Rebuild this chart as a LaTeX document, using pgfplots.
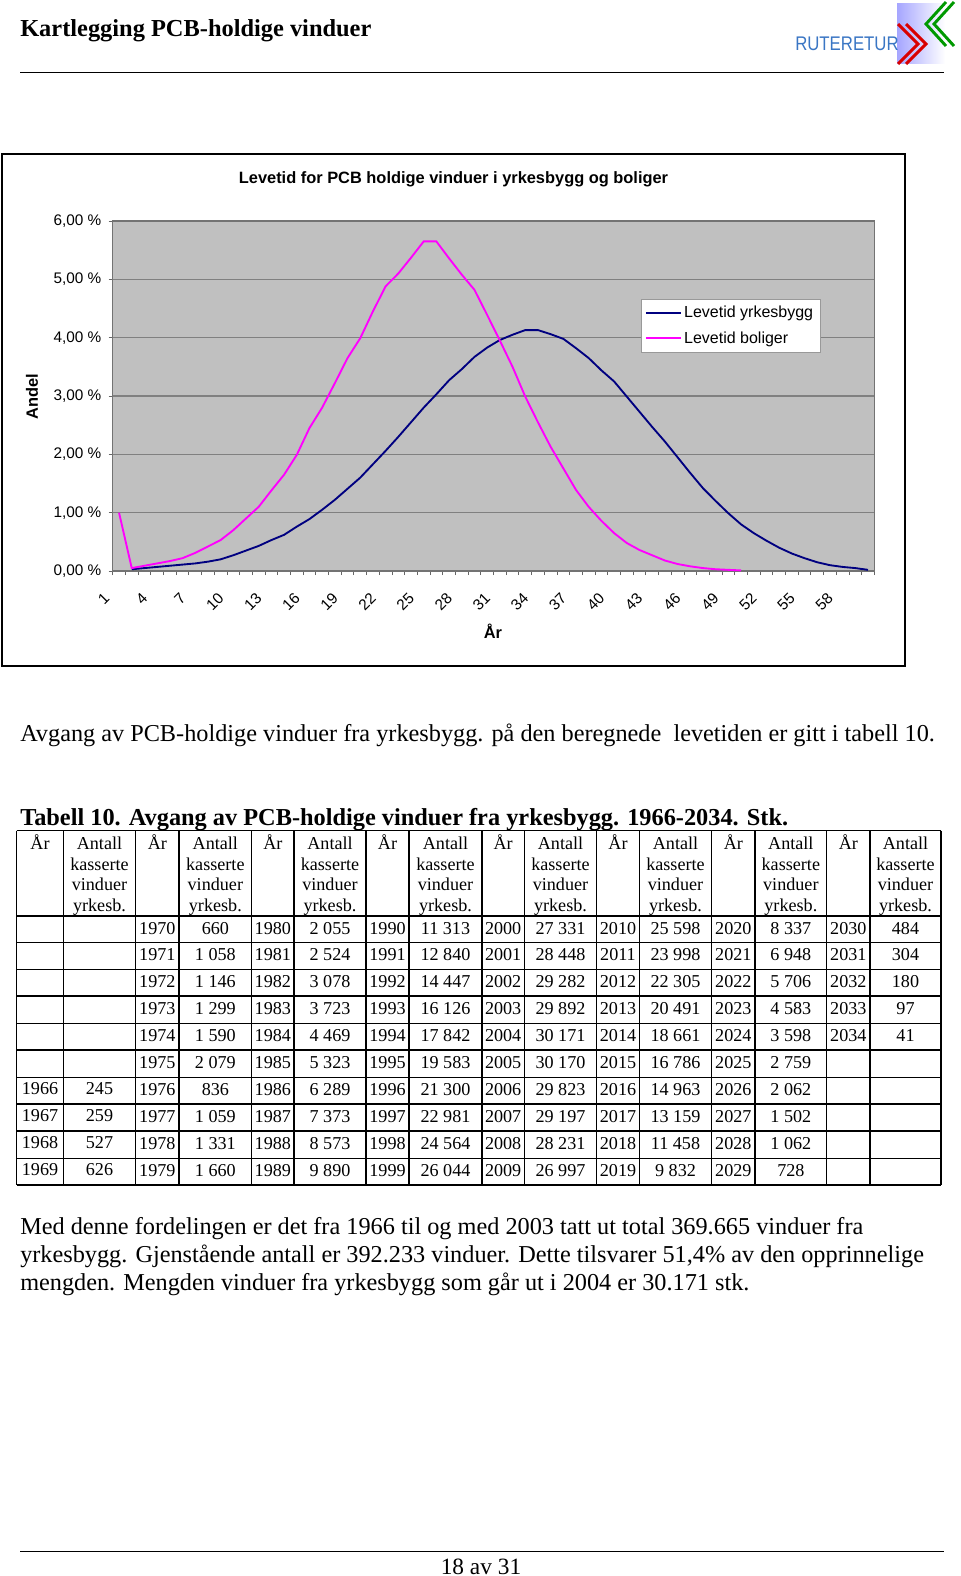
\documentclass[border=0pt]{standalone}
\usepackage{pgfplots}
\pgfplotsset{compat=1.18}
\usepackage{fontspec}
\setmainfont{Liberation Serif}
\newfontfamily\arial{Liberation Sans}
\definecolor{navy}{RGB}{0,0,128}
\definecolor{mag}{RGB}{255,0,255}
\definecolor{plotgray}{RGB}{192,192,192}
\definecolor{logoblue}{RGB}{58,118,196}
\newcommand{\tabfont}{\fontsize{13.6}{15.5}\selectfont}
\newcommand{\bodyfont}{\fontsize{18.2}{21}\selectfont}
\begin{document}
\begin{tikzpicture}
\path[use as bounding box] (0pt,0pt) rectangle (720pt,-1182pt);
\begin{scope}[x=0.75pt,y=-0.75pt]
% ---------- header ----------
\node[anchor=base west, inner sep=0, font=\fontsize{18.3}{20}\selectfont\bfseries] at (20,36.5) {Kartlegging PCB-holdige vinduer};
\shade[left color=blue!35!white, right color=white] (897,4) rectangle (945,64);
\draw[red!85!black, line width=2.2pt] (898,24)--(918,44)--(898,64);
\draw[red!85!black, line width=2.2pt] (906,24)--(926,44)--(906,64);
\draw[green!60!black, line width=2.2pt] (946,2)--(926,24)--(946,46);
\draw[green!60!black, line width=2.2pt] (954,2)--(934,24)--(954,46);
\node[anchor=base west, inner sep=0, text=logoblue, font=\arial\fontsize{14.8}{16}\selectfont] at (795,50.5) {\scalebox{0.85}[1]{RUTERETUR}};
\draw[line width=0.8pt] (20,72.5) -- (944,72.5);
% ---------- chart frame ----------
\draw[line width=1.5pt] (2,154) rectangle (905,666);
\node[anchor=base, inner sep=0, font=\arial\bfseries\fontsize{12.3}{14}\selectfont] at (453.5,184) {Levetid for PCB holdige vinduer i yrkesbygg og boliger};
\node[rotate=90, inner sep=0, font=\arial\bfseries\fontsize{12.3}{14}\selectfont] at (32,397) {Andel};
\node[inner sep=0, font=\arial\bfseries\fontsize{12.3}{14}\selectfont] at (493,631) {År};
% ---------- text ----------
\node[anchor=base west, inner sep=0, font=\bodyfont] at (20,741) {Avgang av PCB-holdige vinduer fra yrkesbygg. på den beregnede~ levetiden er gitt i tabell 10.};
\node[anchor=base west, inner sep=0, font=\fontsize{18.25}{20}\selectfont\bfseries] at (20,825) {Tabell 10. Avgang av PCB-holdige vinduer fra yrkesbygg. 1966-2034. Stk.};
% ---------- table ----------
\foreach \yy in {830.7,916,942.7,969.3,996,1023.3,1050,1077.3,1104,1131,1158.3,1185}
  \draw[line width=1pt] (16.7,\yy) -- (941,\yy);
\foreach \xx in {16.7,63.3,135.7,179,251.7,294,366,409,482,524.3,596.7,639.3,711.7,755,826.7,870,941}
  \draw[line width=1pt] (\xx,830.7) -- (\xx,1185);
\foreach \xx in {40,157.35,272.85,387.5,503.15,618,733.35,848.35}
  \node[anchor=base, inner sep=0, font=\tabfont] at (\xx,849.3) {År};
\foreach \xx in {99.5,215.35,330,445.5,560.5,675.5,790.85,905.5}{
  \node[anchor=base, inner sep=0, font=\tabfont] at (\xx,849.3) {Antall};
  \node[anchor=base, inner sep=0, font=\tabfont] at (\xx,870) {kasserte};
  \node[anchor=base, inner sep=0, font=\tabfont] at (\xx,890.7) {vinduer};
  \node[anchor=base, inner sep=0, font=\tabfont] at (\xx,911.3) {yrkesb.};
}
\foreach \b/\ya/\va in {1094/1966/245,1121/1967/259,1148/1968/527,1175.3/1969/626}{
  \node[anchor=base, inner sep=0, font=\tabfont] at (40,\b) {\ya};
  \node[anchor=base, inner sep=0, font=\tabfont] at (99.5,\b) {\va};
}
\foreach \b/\ya/\va/\yb/\vb/\yc/\vc/\yd/\vd in {
  934/1970/660/1980/{2 055}/1990/{11 313}/2000/{27 331},
  960.7/1971/{1 058}/1981/{2 524}/1991/{12 840}/2001/{28 448},
  987.3/1972/{1 146}/1982/{3 078}/1992/{14 447}/2002/{29 282},
  1014/1973/{1 299}/1983/{3 723}/1993/{16 126}/2003/{29 892},
  1041.3/1974/{1 590}/1984/{4 469}/1994/{17 842}/2004/{30 171},
  1068/1975/{2 079}/1985/{5 323}/1995/{19 583}/2005/{30 170},
  1095.3/1976/836/1986/{6 289}/1996/{21 300}/2006/{29 823},
  1122/1977/{1 059}/1987/{7 373}/1997/{22 981}/2007/{29 197},
  1149/1978/{1 331}/1988/{8 573}/1998/{24 564}/2008/{28 231},
  1176.3/1979/{1 660}/1989/{9 890}/1999/{26 044}/2009/{26 997}}{
  \node[anchor=base, inner sep=0, font=\tabfont] at (157.35,\b) {\ya};
  \node[anchor=base, inner sep=0, font=\tabfont] at (215.35,\b) {\va};
  \node[anchor=base, inner sep=0, font=\tabfont] at (272.85,\b) {\yb};
  \node[anchor=base, inner sep=0, font=\tabfont] at (330,\b) {\vb};
  \node[anchor=base, inner sep=0, font=\tabfont] at (387.5,\b) {\yc};
  \node[anchor=base, inner sep=0, font=\tabfont] at (445.5,\b) {\vc};
  \node[anchor=base, inner sep=0, font=\tabfont] at (503.15,\b) {\yd};
  \node[anchor=base, inner sep=0, font=\tabfont] at (560.5,\b) {\vd};
}
\foreach \b/\ya/\va/\yb/\vb in {
  934/2010/{25 598}/2020/{8 337},
  960.7/2011/{23 998}/2021/{6 948},
  987.3/2012/{22 305}/2022/{5 706},
  1014/2013/{20 491}/2023/{4 583},
  1041.3/2014/{18 661}/2024/{3 598},
  1068/2015/{16 786}/2025/{2 759},
  1095.3/2016/{14 963}/2026/{2 062},
  1122/2017/{13 159}/2027/{1 502},
  1149/2018/{11 458}/2028/{1 062},
  1176.3/2019/{9 832}/2029/728}{
  \node[anchor=base, inner sep=0, font=\tabfont] at (618,\b) {\ya};
  \node[anchor=base, inner sep=0, font=\tabfont] at (675.5,\b) {\va};
  \node[anchor=base, inner sep=0, font=\tabfont] at (733.35,\b) {\yb};
  \node[anchor=base, inner sep=0, font=\tabfont] at (790.85,\b) {\vb};
}
\foreach \b/\ya/\va in {934/2030/484,960.7/2031/304,987.3/2032/180,1014/2033/97,1041.3/2034/41}{
  \node[anchor=base, inner sep=0, font=\tabfont] at (848.35,\b) {\ya};
  \node[anchor=base, inner sep=0, font=\tabfont] at (905.5,\b) {\va};
}
% ---------- paragraph ----------
\node[anchor=base west, inner sep=0, font=\bodyfont] at (20,1234) {Med denne fordelingen er det fra 1966 til og med 2003 tatt ut total 369.665 vinduer fra};
\node[anchor=base west, inner sep=0, font=\bodyfont] at (20,1262) {yrkesbygg. Gjenstående antall er 392.233 vinduer. Dette tilsvarer 51,4\% av den opprinnelige};
\node[anchor=base west, inner sep=0, font=\bodyfont] at (20,1290) {mengden. Mengden vinduer fra yrkesbygg som går ut i 2004 er 30.171 stk.};
% ---------- footer ----------
\draw[line width=0.8pt] (20,1551.7) -- (944,1551.7);
\node[anchor=base, inner sep=0, font=\fontsize{17.5}{19}\selectfont] at (481,1574) {18 av 31};
\end{scope}
\begin{axis}[
  at={(84.525pt,-428.25pt)}, anchor=south west,
  scale only axis, width=571.2pt, height=262.5pt,
  xmin=0.5, xmax=60.5, ymin=0, ymax=6,
  axis background/.style={fill=plotgray},
  axis line style={draw=black!55, line width=0.8pt},
  ytick={0,1,2,3,4,5,6},
  yticklabels={{0,00 \%},{1,00 \%},{2,00 \%},{3,00 \%},{4,00 \%},{5,00 \%},{6,00 \%}},
  ymajorgrids, grid style={draw=black!50, line width=0.8pt},
  xtick pos=bottom, ytick pos=left, tick align=outside,
  major tick length=3pt, minor tick length=3pt,
  major y tick style={draw=black!60, line width=0.6pt},
  major x tick style={draw=none},
  minor x tick style={draw=black!60, line width=0.6pt},
  xtick={1,4,...,58},
  xticklabels={1,4,7,10,13,16,19,22,25,28,31,34,37,40,43,46,49,52,55,58},
  minor xtick={0.5,1.5,...,60.5},
  xticklabel style={rotate=45, anchor=east, font=\arial\fontsize{11.5}{13}\selectfont, xshift=-14.2pt, yshift=-4.6pt},
  yticklabel style={font=\arial\fontsize{11.5}{13}\selectfont, xshift=-2pt},
  legend style={at={(0.6933,0.777)}, anchor=north west, draw=black!40, fill=white,
    font=\arial\fontsize{12}{14}\selectfont, row sep=5pt, inner xsep=3pt, inner ysep=3pt},
  legend cell align=left,
  legend image code/.code={\draw[#1] (0pt,0pt) -- (26pt,0pt);},
]
\addplot[navy, line width=1.4pt] coordinates {
(2,0.03)(3,0.05)(4,0.07)(5,0.09)(6,0.11)(7,0.13)(8,0.16)(9,0.20)(10,0.27)
(11,0.35)(12,0.43)(13,0.53)(14,0.62)(15,0.76)(16,0.89)(17,1.05)(18,1.22)(19,1.41)(20,1.60)
(21,1.83)(22,2.06)(23,2.30)(24,2.55)(25,2.80)(26,3.03)(27,3.27)(28,3.46)(29,3.67)(30,3.83)
(31,3.96)(32,4.05)(33,4.13)(34,4.13)(35,4.06)(36,3.98)(37,3.82)(38,3.65)(39,3.44)(40,3.25)
(41,2.99)(42,2.73)(43,2.47)(44,2.22)(45,1.95)(46,1.68)(47,1.42)(48,1.20)(49,0.99)(50,0.80)
(51,0.65)(52,0.52)(53,0.40)(54,0.30)(55,0.22)(56,0.15)(57,0.10)(58,0.07)(59,0.05)(60,0.02)};
\addlegendentry{Levetid yrkesbygg}
\addplot[mag, line width=1.4pt] coordinates {
(1,1.00)(2,0.05)(3,0.09)(4,0.13)(5,0.17)(6,0.22)(7,0.31)(8,0.42)(9,0.53)(10,0.70)
(11,0.90)(12,1.10)(13,1.38)(14,1.65)(15,1.99)(16,2.45)(17,2.80)(18,3.22)(19,3.65)(20,3.99)
(21,4.45)(22,4.88)(23,5.10)(24,5.37)(25,5.65)(26,5.65)(27,5.36)(28,5.08)(29,4.82)(30,4.39)
(31,3.95)(32,3.50)(33,2.99)(34,2.55)(35,2.13)(36,1.76)(37,1.39)(38,1.10)(39,0.86)(40,0.65)
(41,0.48)(42,0.36)(43,0.27)(44,0.18)(45,0.12)(46,0.08)(47,0.05)(48,0.03)(49,0.02)(50,0.01)};
\addlegendentry{Levetid boliger}
\end{axis}
\end{tikzpicture}
\end{document}
